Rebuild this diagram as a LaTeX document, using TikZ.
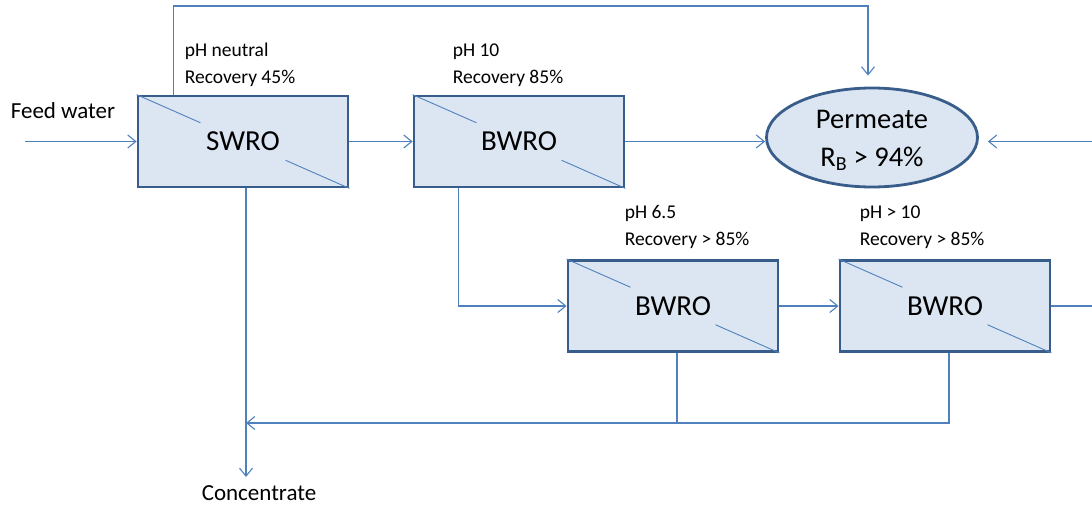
\documentclass[tikz,border=0pt]{standalone}
\usepackage{fontspec}
\setmainfont{Carlito}
\usepackage{xcolor}
\usetikzlibrary{arrows.meta, calc, positioning, shapes.geometric}

\definecolor{flowblue}{HTML}{4F81BD}
\definecolor{unitedge}{HTML}{385D8A}
\definecolor{unitfill}{HTML}{DCE6F2}

\begin{document}
\begin{tikzpicture}[x=1pt, y=-1pt,
  unit/.style={draw=unitedge, line width=2.8pt, fill=unitfill, minimum width=210pt, minimum height=91pt, inner sep=0pt, font=\fontsize{29}{34}\selectfont},
  flow/.style={flowblue, line width=1.1pt},
  tip/.style={flow, -{Straight Barb[length=8pt, width=13pt]}},
  note/.style={anchor=south west, inner sep=0pt, align=left, font=\fontsize{19.5}{27}\selectfont},
  plain/.style={inner sep=0pt, font=\fontsize{23}{28}\selectfont}]
\useasboundingbox (0,0) rectangle (1092,506);

% membrane stages
\node[unit] (swro) at (243,141.5) {SWRO};
\node[unit] (bwroA) at (519,141.5) {BWRO};
\node[unit] (bwroB) at (673,306) {BWRO};
\node[unit] (bwroC) at (945,306) {BWRO};

\node[ellipse, draw=unitedge, line width=2.8pt, fill=unitfill, minimum width=211pt, minimum height=99pt, inner sep=0pt] (perm) at (872,137.5) {};
\node[inner sep=0pt, align=center, font=\fontsize{28.5}{38}\selectfont] (permtext) at ([yshift=-3pt]perm.center) {Permeate\\R\textsubscript{B} > 94\%};

% split membrane lines
\foreach \u in {swro, bwroA, bwroB, bwroC} {
  \draw[flow, line width=0.9pt] (\u.north west) -- ($(\u.north west)!0.3!(\u.south east)$);
  \draw[flow, line width=0.9pt] ($(\u.north west)!0.7!(\u.south east)$) -- (\u.south east);
}

% operating conditions
\node[note] (condSW) at ([xshift=48pt, yshift=8pt]swro.north west) {pH neutral\\Recovery 45\%};
\node[note] (condA) at ([xshift=40pt, yshift=8pt]bwroA.north west) {pH 10\\Recovery 85\%};
\node[note] (condB) at ([xshift=58pt, yshift=10pt]bwroB.north west) {pH 6.5\\Recovery > 85\%};
\node[note] (condC) at ([xshift=21pt, yshift=10pt]bwroC.north west) {pH > 10\\Recovery > 85\%};

\node[plain] (feedtext) at (63,111) {Feed water};
\node[plain] (conctext) at (259,493) {Concentrate};

\coordinate (feed) at (25,141.5);
\coordinate (loop) at (0,6);
\coordinate (side) at (1092,141.5);
\coordinate (exit) at (1092,306);
\coordinate (conc) at (246,477);
\coordinate (ret) at (0,423);

% main flow
\draw[tip] (feed) -- (swro);
\draw[tip] (swro) -- (bwroA);
\draw[tip] (bwroA) -- (bwroA -| perm.west);
\draw[tip, shorten >=9pt] (side) -- (side -| perm.east);
\draw[tip, shorten >=11pt] ([xshift=37pt]swro.north west) -- ([xshift=37pt]swro.north west |- loop) -| ([xshift=-4pt]perm.north);

% second pass
\draw[tip] ([xshift=46pt]bwroA.south west) |- (bwroB);
\draw[tip] (bwroB) -- (bwroC);
\draw[flow] (bwroC) -- (exit);

% brine
\draw[tip] ([xshift=3pt]swro.south) -- (conc);
\draw[flow] ([xshift=4pt]bwroB.south) -- ([xshift=4pt]bwroB.south |- ret);
\draw[tip] ([xshift=4pt]bwroC.south) |- (conc |- ret);
\end{tikzpicture}
\end{document}
